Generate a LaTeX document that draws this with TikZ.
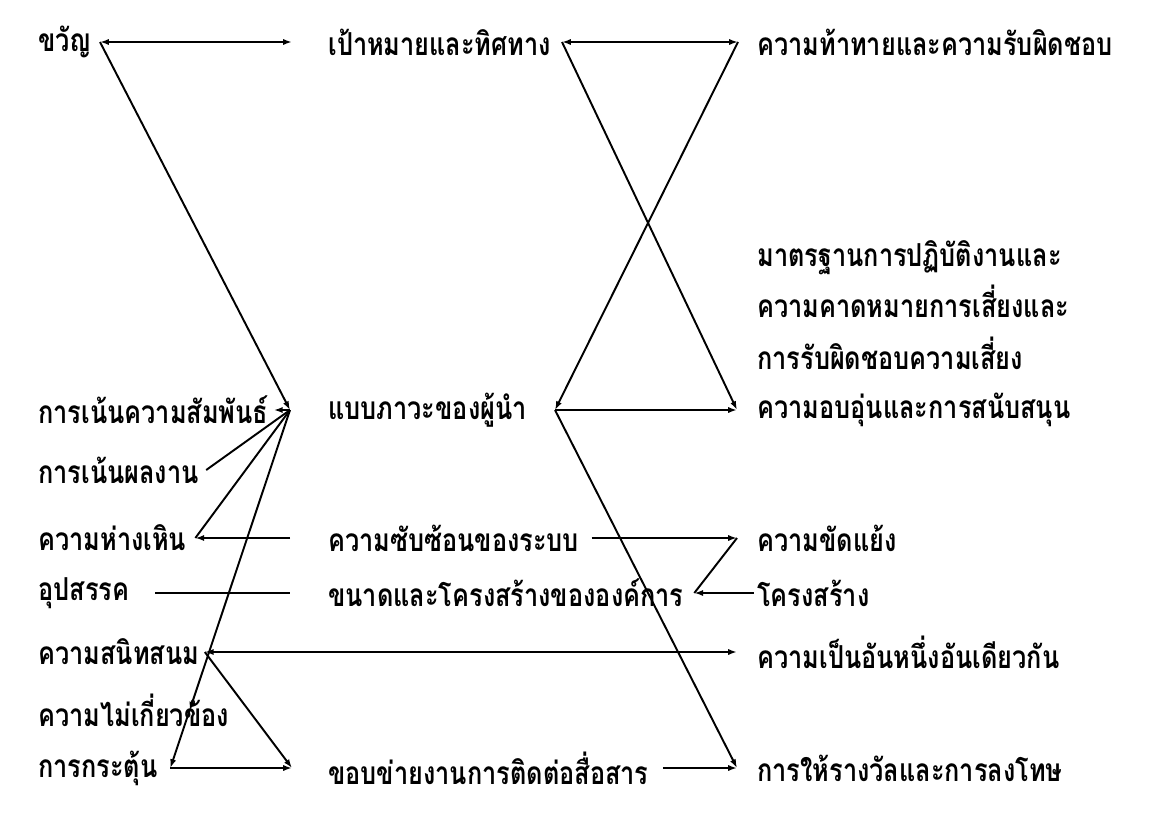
\documentclass[tikz,border=0pt]{standalone}
\usepackage{fontspec}
\newfontfamily\thaifont[Script=Thai, FakeStretch=0.8]{Loma}
\usetikzlibrary{arrows.meta, positioning, calc}

\begin{document}
\begin{tikzpicture}[
  x=0.02cm, y=-0.02cm,
  lbl/.style={anchor=west, inner sep=0pt, font=\thaifont\bfseries\fontsize{18}{21}\selectfont},
  arr/.style={-{Latex[length=5pt,width=3.5pt]}, line width=1.1pt},
  dbl/.style={{Latex[length=5pt,width=3.5pt]}-{Latex[length=5pt,width=3.5pt]}, line width=1.1pt},
  ln/.style={line width=1.1pt}
]
\useasboundingbox (0,0) rectangle (1158,832);

%% ── Left column ─────────────────────────────────────────────────────────────
\node[lbl] (kwan)  at (38,42)  {ขวัญ};
\node[lbl] (nrel)  at (38,410) {การเน้นความสัมพันธ์};
\node[lbl] (nres)  at (38,470) {การเน้นผลงาน};
\node[lbl] (dist)  at (38,538) {ความห่างเหิน};
\node[lbl] (obst)  at (38,593) {อุปสรรค};
\node[lbl] (close) at (38,652) {ความสนิทสนม};
\node[lbl] (unrel) at (38,710) {ความไม่เกี่ยวข้อง};
\node[lbl] (stim)  at (38,768) {การกระตุ้น};

%% ── Middle column ───────────────────────────────────────────────────────────
\node[lbl] (goal) at (328,42)  {เป้าหมายและทิศทาง};
\node[lbl] (lead) at (328,410) {แบบภาวะของผู้นำ};
\node[lbl] (cplx) at (328,538) {ความซับซ้อนของระบบ};
\node[lbl] (size) at (328,593) {ขนาดและโครงสร้างขององค์การ};
\node[lbl] (comm) at (328,768) {ขอบข่ายงานการติดต่อสื่อสาร};

%% ── Right column ────────────────────────────────────────────────────────────
\node[lbl] (chal)  at (757,42)  {ความท้าทายและความรับผิดชอบ};
\node[lbl, align=left, font=\thaifont\bfseries\fontsize{18}{29.5}\selectfont]
           (std)   at (757,305) {มาตรฐานการปฏิบัติงานและ\\ความคาดหมายการเสี่ยงและ\\การรับผิดชอบความเสี่ยง};
\node[lbl] (warm)  at (757,410) {ความอบอุ่นและการสนับสนุน};
\node[lbl] (conf)  at (757,538) {ความขัดแย้ง};
\node[lbl] (strc)  at (757,593) {โครงสร้าง};
\node[lbl] (unity) at (757,652) {ความเป็นอันหนึ่งอันเดียวกัน};
\node[lbl] (rew)   at (757,768) {การให้รางวัลและการลงโทษ};

%% ── Corners and hubs ────────────────────────────────────────────────────────
\coordinate (kwanC)  at (100,42);
\coordinate (goalT)  at (292,42);
\coordinate (goalR)  at (562,42);
\coordinate (chalL)  at (738,42);
\coordinate (hubL)   at (290,410);
\coordinate (hubR)   at (555,410);
\coordinate (warmT)  at (737,410);
\coordinate (distC)  at ([xshift=5pt]dist.east);
\coordinate (distR)  at (290,538);
\coordinate (cplxL)  at ([xshift=7pt]cplx.east);
\coordinate (cplxT)  at (737,538);
\coordinate (obstL)  at (155,593);
\coordinate (obstR)  at (290,593);
\coordinate (sizeT)  at ([xshift=6pt]size.east);
\coordinate (closeC) at ([xshift=3pt]close.east);
\coordinate (unityT) at (737,652);
\coordinate (stimC)  at ([xshift=7pt]stim.east);
\coordinate (commT)  at (292,768);
\coordinate (commR)  at ([xshift=8pt]comm.east);
\coordinate (rewT)   at (737,768);
\coordinate (unrelT) at ($(hubL)!0.84!(stimC)$);

%% ── Top rows ────────────────────────────────────────────────────────────────
\draw[dbl] (kwanC) -- (goalT);
\draw[arr] (kwanC) -- (hubL);
\draw[dbl] (goalR) -- (chalL);
\draw[arr] (goalR) -- (warmT);
\draw[arr] (chalL) -- (hubR);
\draw[arr] (hubR)  -- (warmT);
\draw[arr] (hubR)  -- (rewT);

%% ── Left hub ────────────────────────────────────────────────────────────────
\draw[arr] (hubL) -- ([xshift=3pt]nrel.east);
\draw[ln]  ([xshift=4pt]nres.east) -- (hubL);
\draw[ln]  (distC) -- (hubL);
\draw[arr] (distR) -- (distC);
\draw[arr] (hubL)  -- (unrelT);
\draw[arr] (unrelT) -- (stimC);

%% ── Lower rows ──────────────────────────────────────────────────────────────
\draw[arr] (cplxL) -- (cplxT);
\draw[ln]  (cplxT) -- (sizeT);
\draw[arr] ([xshift=-2pt]strc.west) -- (sizeT);
\draw[ln]  (obstL) -- (obstR);
\draw[dbl] (closeC) -- (unityT);
\draw[arr] (closeC) -- (commT);
\draw[arr] (stimC)  -- (commT);
\draw[arr] (commR)  -- (rewT);

\end{tikzpicture}
\end{document}
